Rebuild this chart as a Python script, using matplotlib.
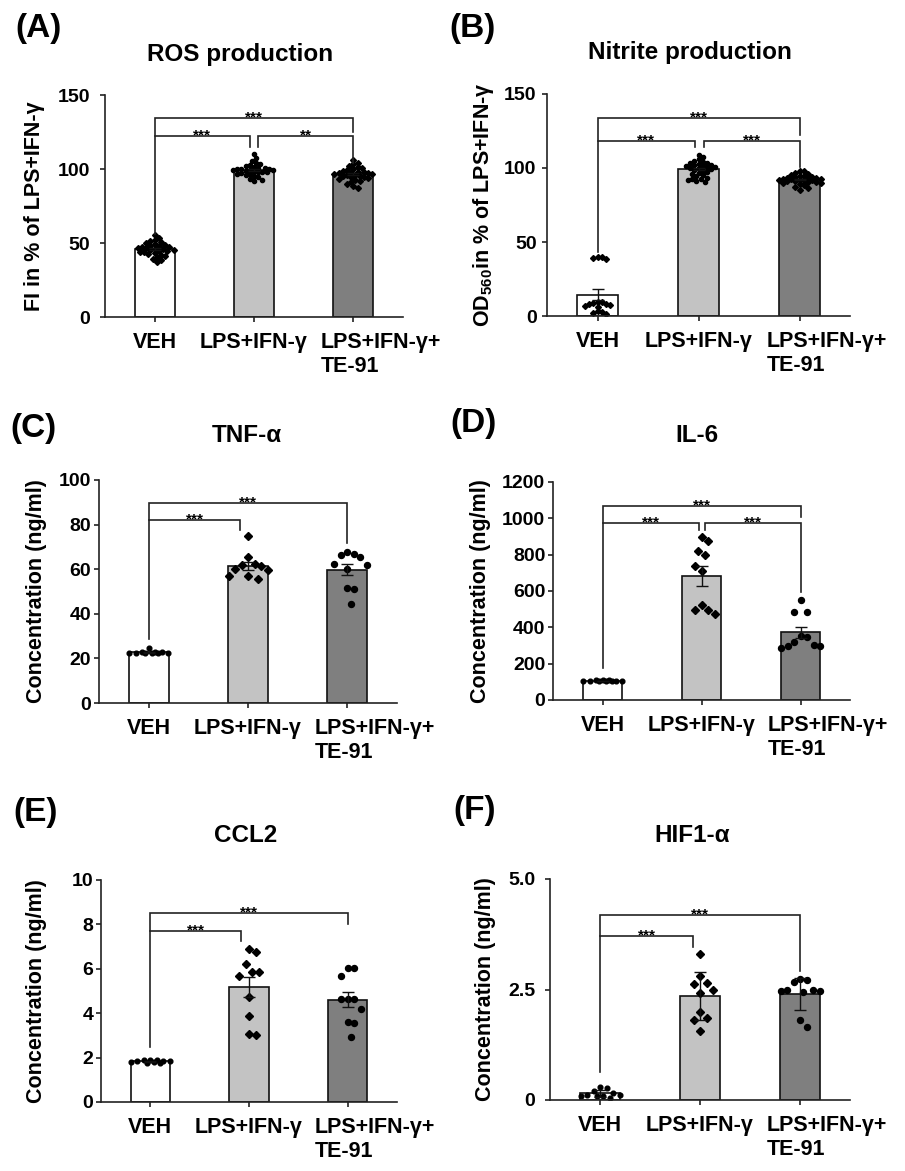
import numpy as np
import matplotlib
matplotlib.use("Agg")
import matplotlib.pyplot as plt
from matplotlib.transforms import ScaledTranslation

plt.rcParams['font.family'] = ['Liberation Sans', 'DejaVu Sans']
plt.rcParams['font.weight'] = 'bold'
plt.rcParams['axes.labelweight'] = 'bold'
plt.rcParams['mathtext.fontset'] = 'custom'
plt.rcParams['mathtext.rm'] = 'Liberation Sans:bold'
plt.rcParams['mathtext.it'] = 'Liberation Sans:bold'
plt.rcParams['mathtext.bf'] = 'Liberation Sans:bold'
plt.rcParams['mathtext.default'] = 'rm'

groups = ['VEH', 'LPS+IFN-γ', 'LPS+IFN-γ+\nTE-91']
bar_colors = ['white', '#c3c3c3', '#7f7f7f']

# ---- values ----
ros_veh = [55.2, 53.4, 52.1, 51.3, 50.6, 49.8, 49.2, 48.7, 48.3, 47.9, 47.6, 47.2, 46.9, 46.5,
           46.2, 45.9, 45.6, 45.2, 44.8, 44.5, 44.1, 43.6, 43.2, 42.7, 42.1, 41.4, 40.6, 39.5,
           38.4, 37.2]
ros_lps = [110.0, 107.2, 105.3, 104.1, 103.2, 102.5, 101.9, 101.4, 101.0, 100.6, 100.3, 100.0,
           99.8, 99.5, 99.3, 99.1, 98.8, 98.6, 98.3, 98.0, 97.7, 97.3, 96.9, 96.4, 95.8, 95.1,
           94.3, 93.5, 92.6, 92.0]
ros_te = [106.0, 104.2, 103.1, 102.0, 101.2, 100.4, 99.8, 99.2, 98.7, 98.3, 97.9, 97.6, 97.3,
          97.0, 96.7, 96.4, 96.1, 95.8, 95.5, 95.2, 94.8, 94.4, 94.0, 93.5, 92.9, 92.2, 91.3,
          90.2, 88.6, 87.0]

no_veh = [39.3, 40.1, 38.8, 39.6, 9.2, 8.1, 7.3, 8.6, 9.6, 6.9, 6.2, 7.8, 2.4, 1.1, 3.2, 1.8]
no_lps = [109.0, 107.1, 105.8, 104.9, 104.2, 103.6, 103.1, 102.7, 102.3, 101.9, 101.6, 101.2,
          100.8, 100.5, 100.1, 99.7, 99.3, 98.8, 98.2, 97.5, 96.8, 96.0, 95.2, 94.3, 93.5, 92.8,
          92.3, 91.8, 91.3, 90.8]
no_te = [98.2, 97.8, 96.9, 96.1, 95.4, 94.9, 94.5, 94.1, 93.8, 93.5, 93.3, 93.0, 92.8, 92.6,
         92.4, 92.2, 92.0, 91.8, 91.6, 91.4, 91.1, 90.8, 90.5, 90.1, 89.6, 89.0, 88.2, 87.3,
         86.2, 85.0]

tnf_veh = [24.7, 23.0, 22.8, 22.5, 22.5, 22.6, 22.4, 22.7, 22.5, 22.6]
tnf_lps = [74.9, 65.6, 62.5, 61.5, 61.8, 60.2, 59.5, 56.9, 55.8, 56.9]
tnf_te = [67.8, 66.8, 65.6, 66.2, 60.0, 62.3, 62.0, 51.5, 50.9, 44.6]

il6_veh = [110, 108, 105, 104, 106, 107, 103, 105, 109, 104]
il6_lps = [898, 874, 819, 797, 740, 712, 522, 495, 494, 476]
il6_te = [550, 486, 484, 350, 345, 320, 305, 300, 298, 284]

ccl2_veh = [1.90, 1.85, 1.80, 1.90, 1.85, 1.75, 1.90, 1.80, 1.85, 1.75]
ccl2_lps = [6.89, 6.77, 6.20, 5.86, 5.86, 5.68, 4.74, 3.88, 3.08, 3.00]
ccl2_te = [6.05, 6.05, 5.67, 4.66, 4.64, 4.62, 4.21, 3.61, 3.58, 2.93]

hif_veh = [0.30, 0.28, 0.20, 0.15, 0.12, 0.10, 0.10, 0.12, 0.08, 0.05]
hif_lps = [3.30, 2.81, 2.64, 2.62, 2.49, 2.42, 1.99, 1.85, 1.82, 1.55]
hif_te = [2.74, 2.72, 2.66, 2.50, 2.48, 2.47, 2.46, 2.45, 1.81, 1.65]

panels = [
    dict(letter='(A)', title='ROS production', ylabel='FI in % of LPS+IFN-γ',
         data=[ros_veh, ros_lps, ros_te], err='sem', ymax=150, yticks=[0, 50, 100, 150],
         yticklabels=None, small=True,
         brackets=[(0, 2, 134.2, 122.3, 125.2, '***'), (0, 0.96, 122.3, 56.4, 115.0, '***'),
                   (1.04, 2, 122.3, 115.0, 103.8, '**')]),
    dict(letter='(B)', title='Nitrite production', ylabel='OD$_{560}$in % of LPS+IFN-γ',
         data=[no_veh, no_lps, no_te], err='sem', ymax=150, yticks=[0, 50, 100, 150],
         yticklabels=None, small=True,
         brackets=[(0, 2, 133.5, 118.4, 122.3, '***'), (0, 0.965, 118.4, 43.0, 114.4, '***'),
                   (1.05, 2, 118.4, 114.4, 100.8, '***')]),
    dict(letter='(C)', title='TNF-α', ylabel='Concentration (ng/ml)',
         data=[tnf_veh, tnf_lps, tnf_te], err='sem', ymax=100, yticks=[0, 20, 40, 60, 80, 100],
         yticklabels=None, small=False,
         brackets=[(0, 2, 89.5, 82.0, 71.6, '***'), (0, 0.923, 82.0, 28.9, 77.5, '***')]),
    dict(letter='(D)', title='IL-6', ylabel='Concentration (ng/ml)',
         data=[il6_veh, il6_lps, il6_te], err='sem', ymax=1200,
         yticks=[0, 200, 400, 600, 800, 1000, 1200], yticklabels=None, small=False,
         brackets=[(0, 2, 1066, 975, 1007, '***'), (0, 0.977, 975, 174, 934, '***'),
                   (1.033, 2, 975, 934, 595, '***')]),
    dict(letter='(E)', title='CCL2', ylabel='Concentration (ng/ml)',
         data=[ccl2_veh, ccl2_lps, ccl2_te], err='sem', ymax=10, yticks=[0, 2, 4, 6, 8, 10],
         yticklabels=None, small=False,
         brackets=[(0, 2, 8.50, 7.71, 8.02, '***'), (0, 0.922, 7.71, 2.48, 7.26, '***')]),
    dict(letter='(F)', title='HIF1-α', ylabel='Concentration (ng/ml)',
         data=[hif_veh, hif_lps, hif_te], err='sd', ymax=5, yticks=[0, 2.5, 5.0],
         yticklabels=['0', '2.5', '5.0'], small=False,
         brackets=[(0, 2, 4.19, 3.72, 2.91, '***'), (0, 0.93, 3.72, 0.64, 3.47, '***')]),
]

# layout in pixels: (spine x, top y, width, bottom y)
rects = [(105, 95, 298, 317), (547, 94, 303, 316), (99, 480, 298, 703),
         (553, 482, 297, 700), (101, 880, 296, 1102), (550, 879, 300, 1100)]
title_pos = [(240, 55), (690, 52), (247, 435), (697, 435), (246, 835), (692, 835)]
letter_pos = [(15, 29), (449, 28), (10, 428), (450, 423), (13, 812), (453, 811)]
ylabel_x = [-0.20, -0.168, -0.175, -0.209, -0.182, -0.18]
ytick_pad = [7, 4, 2, 2, 2, 7]

W, H = 905, 1171
fig = plt.figure(figsize=(W / 100, H / 100), dpi=100)


def swarm(ax, vals, dx, dy, half):
    # deterministic beeswarm: shift points sideways when they would overlap
    p0 = ax.transData.transform((0, 0))
    p1 = ax.transData.transform((1, 1))
    sx, sy = p1[0] - p0[0], p1[1] - p0[1]
    ys = np.asarray(vals, dtype=float) * sy
    steps = [0.0]
    k = 1
    while k * dx / 2 <= half:
        steps += [k * dx / 2, -k * dx / 2]
        k += 1
    placed = []
    offs = np.zeros(len(ys))
    for i in np.argsort(-ys, kind='stable'):
        best, bestgap, cand = None, -1, 0.0
        for s in steps:
            gap = min([np.hypot((s - px) / dx, (ys[i] - py) / dy) for px, py in placed],
                      default=1e9)
            if gap >= 1:
                best = s
                break
            if gap > bestgap:
                bestgap, cand = gap, s
        if best is None:
            best = cand
        offs[i] = best
        placed.append((best, ys[i]))
    return offs / sx


for i, p in enumerate(panels):
    sxp, top, wpx, bot = rects[i]
    ax = fig.add_axes([sxp / W, 1 - bot / H, wpx / W, (bot - top) / H])
    ax.set_xlim(-0.5, 2.5)
    ax.set_ylim(0, p['ymax'])
    for s in ['top', 'right']:
        ax.spines[s].set_visible(False)
    for s in ['left', 'bottom']:
        ax.spines[s].set_linewidth(1.2)
        ax.spines[s].set_color('#222222')

    x = np.arange(3)
    means = [np.mean(v) for v in p['data']]
    if p['err'] == 'sem':
        errs = [np.std(v, ddof=1) / np.sqrt(len(v)) for v in p['data']]
    else:
        errs = [np.std(v, ddof=1) for v in p['data']]
    ax.bar(x, means, width=0.4, color=bar_colors, edgecolor='#111111', linewidth=1.2, zorder=1)

    if p['small']:
        sizes, dx, dy, half = [3.0, 3.0, 3.0], 4.2, 4.2, 22
        markers = ['D', 'o', 'D']
    else:
        sizes, dx, dy, half = [3.4, 3.8, 4.3], 6.5, 16, 21
        markers = ['o', 'D', 'o']
    for g, vals in enumerate(p['data']):
        offs = swarm(ax, vals, dx, dy, half)
        ax.plot(g + offs, vals, linestyle='none', marker=markers[g], ms=sizes[g],
                color='black', zorder=2)
    ax.errorbar(x, means, yerr=errs, fmt='none', ecolor='#111111', elinewidth=1.0,
                capsize=4, capthick=1.0, zorder=3)

    for (xa, xb, yb, ya_end, yb_end, txt) in p['brackets']:
        ax.plot([xa, xa, xb, xb], [ya_end, yb, yb, yb_end], color='#222222', lw=1.2,
                zorder=4, clip_on=False, solid_joinstyle='miter')
        ax.annotate(txt, xy=((xa + xb) / 2, yb), xytext=(0, -2.5), textcoords='offset points',
                    ha='center', va='baseline', fontsize=11, fontweight='bold')

    ax.set_yticks(p['yticks'])
    if p['yticklabels'] is not None:
        ax.set_yticklabels(p['yticklabels'])
    ax.tick_params(axis='y', direction='out', length=3.5, width=1.2, labelsize=14,
                   pad=ytick_pad[i], color='#222222')
    ax.set_xticks(x)
    ax.set_xticklabels(groups)
    ax.tick_params(axis='x', direction='out', length=3.5, width=1.2, labelsize=15.5, pad=7,
                   color='#222222')
    labels = ax.get_xticklabels()
    labels[2].set_ha('left')
    labels[2].set_multialignment('left')
    labels[2].set_transform(labels[2].get_transform() +
                            ScaledTranslation(-33 / 100, 0, fig.dpi_scale_trans))

    ax.set_ylabel(p['ylabel'], fontsize=15.5, fontweight='bold')
    ax.yaxis.set_label_coords(ylabel_x[i], 0.5)

    tx, ty = title_pos[i]
    fig.text(tx / W, 1 - ty / H, p['title'], ha='center', va='center', fontsize=17.5,
             fontweight='bold')
    lx, ly = letter_pos[i]
    fig.text(lx / W, 1 - ly / H, p['letter'], ha='left', va='center', fontsize=24,
             fontweight='bold')

fig.savefig('out.png', dpi=100)
